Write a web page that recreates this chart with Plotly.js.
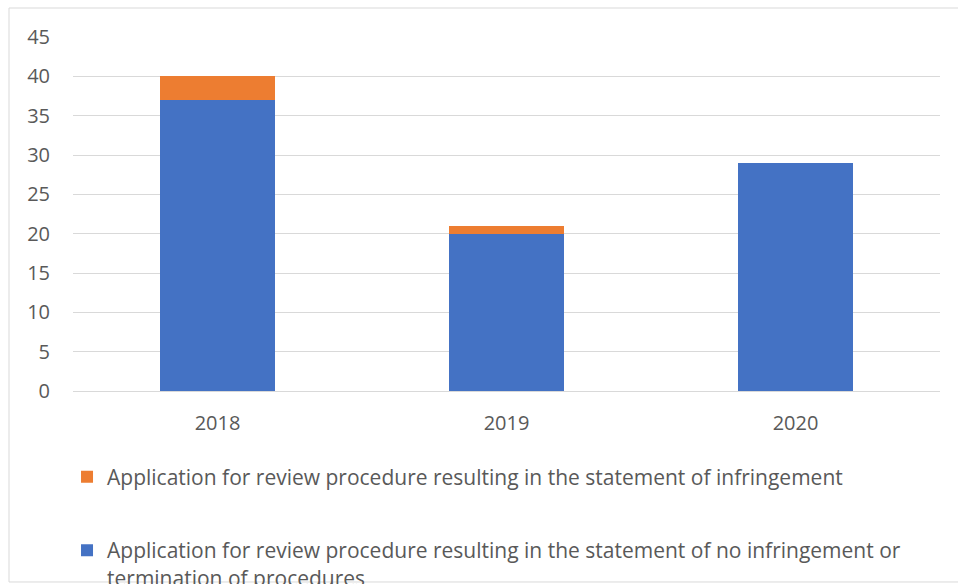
<!DOCTYPE html>
<html>
<head>
<meta charset="utf-8">
<script src="https://cdn.plot.ly/plotly-3.0.1.min.js"></script>
<style>
  html, body { margin: 0; padding: 0; background: #fff; }
  #chart { width: 958px; height: 584px; }
</style>
</head>
<body>
<div id="chart"></div>
<script>
var years = ['2018', '2019', '2020'];
var noInfringement = [37, 20, 29];
var infringement = [3, 1, 0];

var nameNo = 'Application for review procedure resulting in the statement of no infringement or<br>termination of procedures';
var nameYes = 'Application for review procedure resulting in the statement of infringement';

var font = 'Open Sans, Liberation Sans, sans-serif';

var blue = {
  type: 'bar',
  x: years,
  y: noInfringement,
  name: nameNo,
  legendgroup: 'a',
  legendrank: 2,
  marker: { color: '#4472C4', line: { width: 0 } },
  hoverinfo: 'y'
};
var orange = {
  type: 'bar',
  x: years,
  y: infringement,
  name: nameYes,
  legendgroup: 'b',
  legendrank: 1,
  marker: { color: '#ED7D31', line: { width: 0 } },
  hoverinfo: 'y'
};

var layout = {
  width: 958,
  height: 584,
  barmode: 'stack',
  bargap: 0.6,
  paper_bgcolor: '#ffffff',
  plot_bgcolor: '#ffffff',
  font: { family: font, color: '#595959', size: 18 },
  margin: { l: 73, r: 18, t: 37, b: 193, autoexpand: false },
  xaxis: {
    type: 'category',
    showline: true,
    linecolor: '#d9d9d9',
    linewidth: 1,
    ticks: '',
    ticklabelstandoff: 14,
    tickfont: { size: 20, color: '#595959' }
  },
  yaxis: {
    range: [0, 45],
    dtick: 5,
    showgrid: true,
    gridcolor: '#d9d9d9',
    gridwidth: 1,
    zeroline: false,
    showline: false,
    ticks: '',
    ticklabelstandoff: 22,
    tickfont: { size: 20, color: '#595959' }
  },
  showlegend: true,
  legend: {
    orientation: 'v',
    traceorder: 'grouped',
    tracegroupgap: 43,
    x: -0.0069,
    xanchor: 'left',
    yref: 'container',
    y: 0.218,
    yanchor: 'top',
    valign: 'top',
    bgcolor: 'rgba(0,0,0,0)',
    font: { family: font, size: 21, color: '#595959' }
  },
  shapes: [{
    type: 'rect',
    xref: 'paper', yref: 'paper',
    x0: -0.0738, x1: 1.03,
    y0: -0.5395, y1: 1.0819,
    line: { color: '#d9d9d9', width: 1 },
    fillcolor: 'rgba(0,0,0,0)',
    layer: 'below'
  }]
};

Plotly.newPlot('chart', [blue, orange], layout, { displayModeBar: false, staticPlot: true });
</script>
</body>
</html>
